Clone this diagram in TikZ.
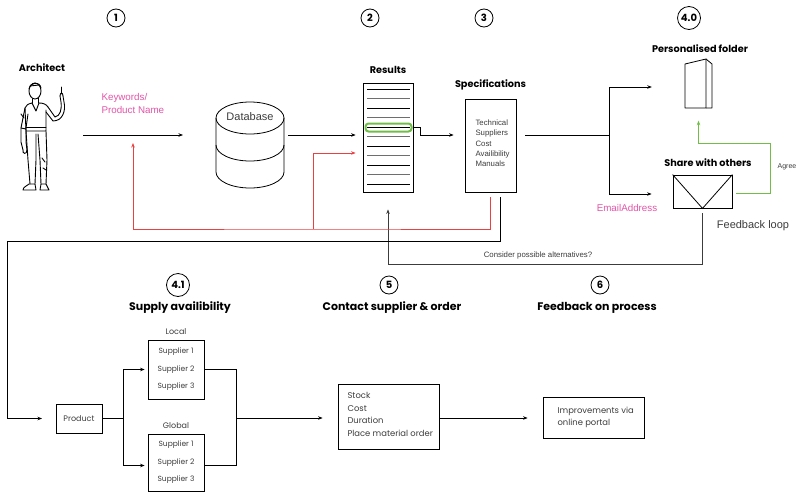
\documentclass[tikz,border=0pt]{standalone}
\usepackage{fontspec}
\setmainfont{Liberation Sans}
\newfontfamily\fut{Poppins}
\usetikzlibrary{arrows.meta,calc}

\definecolor{kwpink}{RGB}{226,84,168}
\definecolor{loopred}{RGB}{236,64,64}
\definecolor{okgreen}{RGB}{112,190,72}
\definecolor{softgray}{RGB}{110,110,110}
\definecolor{inkgray}{RGB}{60,60,60}

\tikzset{
  badge/.style={draw, circle, line width=0.8pt, inner sep=0.5pt, minimum size=18pt,
    font=\fut\bfseries\fontsize{10}{10}\selectfont},
  heading/.style={font=\fut\bfseries\fontsize{9.7}{10}\selectfont},
  bigheading/.style={font=\fut\bfseries\fontsize{11}{12}\selectfont},
  box/.style={draw, line width=0.8pt, inner sep=0pt},
  boxtext/.style={font=\fut\fontsize{7.5}{17.5}\selectfont, text=inkgray, align=left},
  flow/.style={-{Stealth[length=4.5pt,width=3.5pt]}, line width=0.7pt},
  plain/.style={line width=0.7pt},
  redflow/.style={line width=0.7pt, draw=loopred, -{Stealth[length=4.5pt,width=3.5pt]}},
  pinktext/.style={text=kwpink, font=\fontsize{9.8}{12.5}\selectfont, align=left},
}

\begin{document}
\begin{tikzpicture}[x=1pt,y=-1pt]
\useasboundingbox (0,0) rectangle (797,493);

% ---- step badges ----
\node[badge] (b1) at (116,18) {1};
\node[badge] (b2) at (370,18) {2};
\node[badge] (b3) at (484,18) {3};
\node[badge, minimum size=23pt, inner sep=0pt] (b40) at (689,18) {4.0};
\node[badge, minimum size=23pt, inner sep=0pt] (b41) at (178,285) {4.1};
\node[badge] (b5) at (389,285) {5};
\node[badge] (b6) at (600,285) {6};

% ---- architect figure ----
\node[heading] (archlabel) at (42,68) {Architect};
\begin{scope}[line width=0.9pt, line join=round, line cap=round]
  % head and hair
  \draw (35,91) ellipse (6 and 8);
  \draw (29,89) .. controls (30,82) and (40,81) .. (41,88);
  \draw (30,86) -- (39,85);
  % neck
  \draw (32,99) -- (32,103) (38,98) -- (38,103);
  % sweater body
  \draw (32,103) -- (36,111) -- (39,103);
  \draw (32,103) .. controls (28,104) and (26,105) .. (25,108)
        -- (26,131) -- (46,131) -- (46,110);
  \draw (39,103) .. controls (43,103) and (46,104) .. (48,107);
  \draw (26,127) -- (46,127);
  % left arm
  \draw (25,108) -- (21,128) -- (21,142) -- (23,150);
  \draw (28,114) -- (26,128) -- (26,142) -- (27,150);
  \draw (21,128) -- (26,129);
  \draw (23,150) .. controls (22,154) and (27,155) .. (27,150);
  \draw (21,114) -- (24,118);
  % raised arm with phone
  \draw (48,107) -- (55,117) .. controls (60,116) and (62,110) .. (61,102) -- (60,96);
  \draw (46,112) -- (53,121) .. controls (63,121) and (66,110) .. (64,102) -- (63,96);
  \draw (60,96) .. controls (60,92) and (63,92) .. (63,96);
  \draw (61,94) -- (61,87);
  % legs
  \draw (26,131) -- (28,160) -- (30,184);
  \draw (36,134) -- (36,160) -- (35,184);
  \draw (38,134) -- (40,160) -- (41,184);
  \draw (46,131) -- (47,160) -- (46,184);
  \draw (42,158) -- (45,162) (43,168) -- (46,170);
  % shoes
  \draw (29,184) -- (35,184) -- (36,190) -- (23,190) .. controls (23,187) and (27,186) .. (29,184);
  \draw (41,184) -- (46,184) -- (49,190) -- (40,190) -- cycle;
\end{scope}
\coordinate (archout) at (83,135);
\coordinate (dbin) at (183,135);

% ---- query ----
\node[pinktext, anchor=north west] (kw) at (98,90) {Keywords/\\Product Name};
\draw[flow] (archout) -- (dbin);

% ---- database cylinder ----
\begin{scope}[line width=0.8pt]
  \draw (250,118) ellipse (34 and 16);
  \draw (216,118) -- (216,172) arc[start angle=180, end angle=0, x radius=34, y radius=16] -- (284,118);
  \draw (216,145) arc[start angle=180, end angle=0, x radius=34, y radius=16];
\end{scope}
\node[font=\fontsize{11}{12}\selectfont, text=inkgray] (db) at (250,117) {Database};
\coordinate (dbout) at (288,135);

% ---- results list ----
\node[box, minimum width=50pt, minimum height=109pt] (results) at (388,137.5) {};
\node[heading, anchor=south] (resultslabel) at ([yshift=5pt]results.north) {Results};
\foreach \i in {0,...,10} {
  \pgfmathsetmacro{\yy}{89.3+\i*9.5}
  \ifodd\i
    \draw[line width=1pt, softgray] (367,\yy) -- (410,\yy);
  \else
    \draw[line width=1pt, black] (367,\yy) -- (410,\yy);
  \fi
}
\node[draw=okgreen, line width=2pt, rounded corners=3pt, minimum width=46pt, minimum height=8pt, inner sep=0pt] (pick) at (388.5,127.5) {};
\draw[flow] (dbout) -- ($(results.west)+(-7,-2.5)$);

% ---- specifications ----
\node[box, minimum width=51pt, minimum height=93pt] (specs) at (490.5,145.5) {};
\node[heading, anchor=south] (specslabel) at ([yshift=5pt]specs.north) {Specifications};
\node[font=\fontsize{7.8}{10.2}\selectfont, text=inkgray, align=left, anchor=north west] (specitems) at (472,116.5)
  {Technical\\Suppliers\\Cost\\Availibility\\Manuals};
\draw[flow] (pick.east) -- ++(8,0) |- ($(specs.west)+(-11,-10.5)$);

% ---- personalised folder and sharing ----
\node[heading] (folderlabel) at (700,49) {Personalised folder};
\node[minimum width=27pt, minimum height=49pt, inner sep=0pt] (folder) at (698.5,84) {};
\draw[line width=0.8pt, line join=round] (685,108) -- (685,64) -- (706,59) -- (706,108) -- cycle;
\draw[line width=0.8pt, line join=round] (706,59) -- (712,64) -- (712,108) -- (706,108);
\node[heading] (sharelabel) at (708,163) {Share with others};
\node[box, minimum width=59pt, minimum height=33pt] (env) at (702.5,191.5) {};
\draw[line width=0.8pt] (env.north west) -- (env.south) -- (env.north east);

\coordinate (split) at (609,135);
\draw[plain] ($(specs.east)+(9,-10.5)$) -- (split);
\draw[flow] (split) |- ($(folder.west)+(-33,3)$);
\draw[flow] (split) |- ($(env.west)+(-21,2.5)$);
\node[text=kwpink, font=\fontsize{9.8}{10}\selectfont] (email) at (627,208) {EmailAddress};

% agree loop
\coordinate (agreecorner) at (770,143);
\draw[line width=0.8pt, draw=okgreen, -{Stealth[length=4.5pt,width=3.5pt]}]
  ($(env.east)+(4,1.5)$) -| (agreecorner) -| ($(folder.south)+(0,12)$);
\node[font=\fontsize{7}{8}\selectfont, text=inkgray] (agree) at (787,167) {Agree};

% feedback loop back to the results
\node[font=\fontsize{11}{12}\selectfont, text=inkgray] (fbloop) at (753,226) {Feedback loop};
\coordinate (fbturn) at (388,264);
\draw[flow, draw=inkgray] ($(env.south)+(0,5)$) |- (fbturn) -- ($(results.south)+(0,17)$);
\node[font=\fontsize{7.8}{8}\selectfont, text=inkgray] (alt) at (538,255) {Consider possible alternatives?};

% red refinement loop
\coordinate (redjoin) at (313,229);
\coordinate (kwtip) at (133,143);
\draw[redflow] ($(specs.south)+(-0.5,5)$) |- (redjoin) -| (kwtip);
\draw[redflow] (redjoin) |- ($(results.west)+(-7,15.5)$);

% ---- second row titles ----
\node[bigheading] (supplylabel) at (180,308) {Supply availibility};
\node[bigheading] (contactlabel) at (392,308) {Contact supplier \& order};
\node[bigheading] (feedbacklabel) at (597,308) {Feedback on process};

% ---- supply availability ----
\draw[flow] ($(specs.south)+(9.5,5)$) |- (7,241) |- (42,418.5);
\node[box, minimum width=46pt, minimum height=29pt, boxtext, font=\fut\fontsize{8}{9}\selectfont] (product) at (79,418.5) {Product};
\node[box, minimum width=56pt, minimum height=59pt, boxtext, align=center] (local) at (176,369.5)
  {Supplier 1\\Supplier 2\\Supplier 3};
\node[boxtext, font=\fut\fontsize{8}{9}\selectfont, anchor=south] (locallabel) at ([yshift=2pt]local.north) {Local};
\node[box, minimum width=56pt, minimum height=57pt, boxtext, align=center] (global) at (176,462.5)
  {Supplier 1\\Supplier 2\\Supplier 3};
\node[boxtext, font=\fut\fontsize{8}{9}\selectfont, anchor=south] (globallabel) at ([yshift=2pt]global.north) {Global};

\coordinate (fork) at (123,418.5);
\coordinate (merge) at (236,418);
\draw[plain] (product.east) -- (fork);
\draw[flow] (fork) |- ($(local.west)+(-3,0)$);
\draw[flow] (fork) |- ($(global.west)+(-3,3)$);
\draw[plain] (local.east) -| (merge);
\draw[plain] ($(global.east)+(0,3)$) -| (merge);

% ---- ordering and improvements ----
\node[box, minimum width=101pt, minimum height=65pt] (order) at (388.5,416.5) {};
\node[boxtext, anchor=north west, font=\fut\fontsize{8.4}{12.5}\selectfont] (ordertext) at (344,389)
  {Stock\\Cost\\Duration\\Place material order};
\node[box, minimum width=101pt, minimum height=41pt] (improve) at (593.5,417.5) {};
\node[boxtext, anchor=west, font=\fut\fontsize{8.4}{12.5}\selectfont] (improvetext) at (554,417.5)
  {Improvements via\\online portal};
\draw[flow] (merge) -- ($(order.west)+(-15,1.5)$);
\draw[flow] ($(order.east)+(0,1.5)$) -- ($(improve.west)+(-15,0.5)$);

\end{tikzpicture}
\end{document}
